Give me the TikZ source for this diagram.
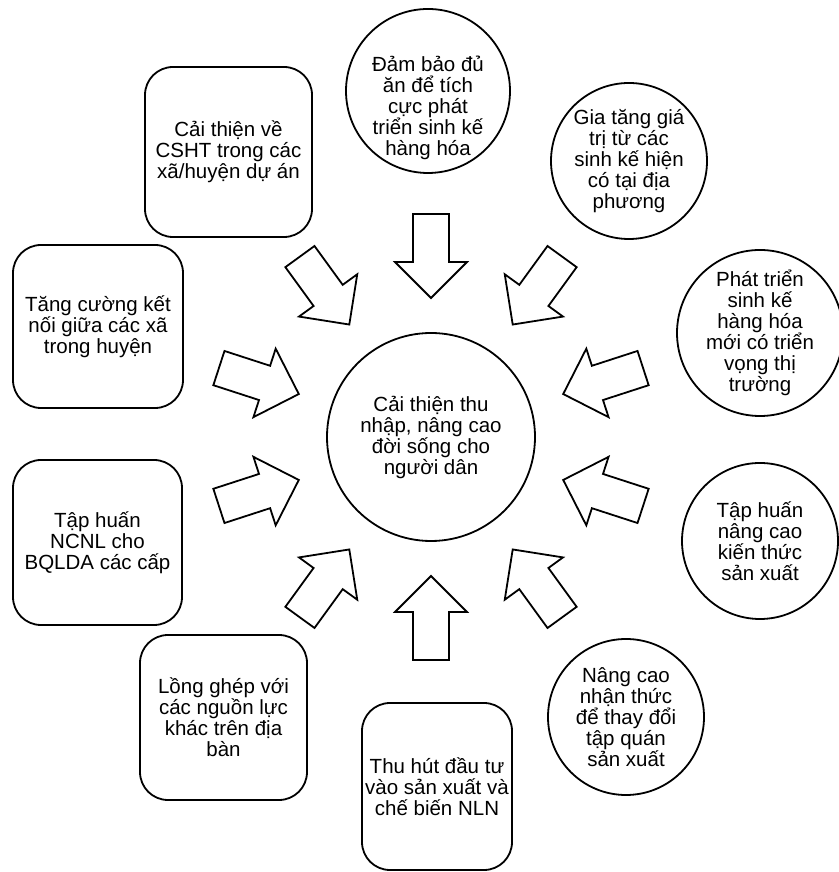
\documentclass[tikz,border=0pt]{standalone}
\usepackage{fontspec}
\setmainfont{Liberation Sans}
\begin{document}
\begin{tikzpicture}[x=1pt,y=1pt,
  txt/.style={font=\fontsize{20.5}{21}\selectfont, align=center, text=black},
  circ/.style={txt, draw, circle, line width=1.8pt, minimum size=156pt, inner sep=0pt},
  rbox/.style={txt, draw, rectangle, rounded corners=28pt, line width=1.8pt, inner sep=0pt},
  blk/.style={draw, line width=1.8pt, line join=miter, fill=white}]
\useasboundingbox (0,0) rectangle (838,872);
% centre
\node[circ, minimum size=208pt] (c) at (431,435) {Cải thiện thu\\nhập, nâng cao\\đời sống cho\\người dân};
% circles
\node[circ, minimum size=164pt] (n1) at (428,781) {};
\node[txt] (t1) at (428,764) {Đảm bảo đủ\\ăn để tích\\cực phát\\triển sinh kế\\hàng hóa};
\node[circ] (n2) at (629,711) {Gia tăng giá\\trị từ các\\sinh kế hiện\\có tại địa\\phương};
\node[circ, minimum size=160pt] (n3) at (760,539) {Phát triển\\sinh kế\\hàng hóa\\mới có triển\\vọng thị\\trường};
\node[circ] (n4) at (760,331) {Tập huấn\\nâng cao\\kiến thức\\sản xuất};
\node[circ] (n5) at (626,155) {Nâng cao\\nhận thức\\để thay đổi\\tập quán\\sản xuất};
% rounded boxes
\node[rbox, minimum width=150pt, minimum height=167pt] (n6) at (437,85.5) {Thu hút đầu tư\\vào sản xuất và\\chế biến NLN};
\node[rbox, minimum width=167pt, minimum height=165pt] (n7) at (223.5,154.5) {Lồng ghép với\\các nguồn lực\\khác trên địa\\bàn};
\node[rbox, minimum width=169pt, minimum height=165pt] (n8) at (97.5,329.5) {Tập huấn\\NCNL cho\\BQLDA các cấp};
\node[rbox, minimum width=170pt, minimum height=163pt] (n9) at (98,545.5) {Tăng cường kết\\nối giữa các xã\\trong huyện};
\node[rbox, minimum width=167pt, minimum height=170pt] (n10) at (228.5,720) {Cải thiện về\\CSHT trong các\\xã/huyện dự án};
% block arrows pointing to the centre
\foreach \a in {90,54,18,-18,-54,-90,-126,-162,162,126} {
  \begin{scope}[shift={(c.center)}, rotate=\a]
    \draw[blk] (139,0) -- (175,36) -- (175,18) -- (223,18) -- (223,-18) -- (175,-18) -- (175,-36) -- cycle;
  \end{scope}
}
\end{tikzpicture}
\end{document}
